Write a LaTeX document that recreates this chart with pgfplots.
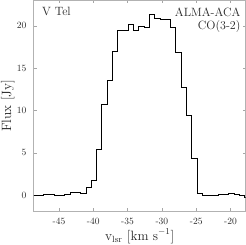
\documentclass[border=0pt]{standalone}
\usepackage{pgfplots}
\pgfplotsset{compat=1.18}
\begin{document}
\begin{tikzpicture}
\begin{axis}[
  scale only axis,
  width=211bp, height=210bp,
  xmin=-48.66, xmax=-17.8,
  ymin=-1.9, ymax=23,
  xtick={-45,-40,-35,-30,-25,-20},
  xticklabels={-45,-40,-35,-30,-25,-20},
  ytick={0,5,10,15,20},
  yticklabels={0,5,10,15,20},
  tick align=inside,
  major tick length=3bp,
  tick style={black!35, line width=0.5pt},
  axis line style={black!30, line width=0.8pt},
  tick label style={font=\fontsize{9.5}{10}\selectfont, text=black!85},
  yticklabel style={xshift=-4bp},
  xticklabel style={yshift=-3bp},
  xlabel={v$_{\rm lsr}$ [km s$^{-1}$]},
  ylabel={Flux [Jy]},
  label style={font=\fontsize{13.5}{15}\selectfont, text=black!85, inner sep=1bp},
  xlabel style={at={(axis description cs:0.5,-0.119)}, anchor=center},
  ylabel style={at={(axis description cs:-0.123,0.5)}, anchor=center},
  clip=true,
]
\addplot[const plot mark left, black, line width=0.9pt] coordinates {
(-48.75,-0.06) (-47.98,-0.04) (-47.21,0.04) (-46.44,0.03) (-45.67,0.0)
(-44.90,-0.08) (-44.13,0.08) (-43.36,0.35) (-42.59,0.35) (-41.82,0.2)
(-41.05,0.9) (-40.28,1.75) (-39.51,5.35) (-38.74,10.75) (-37.97,13.6)
(-37.20,16.95) (-36.43,19.4) (-35.66,19.5) (-34.89,20.2) (-34.12,19.45)
(-33.35,19.9) (-32.57,19.8) (-31.80,21.3) (-31.03,20.85) (-30.26,20.75)
(-29.49,20.7) (-28.72,19.8) (-27.95,16.9) (-27.18,12.7) (-26.41,9.4)
(-25.64,4.3) (-24.87,0.2) (-24.10,-0.1) (-23.33,0.0) (-22.56,0.0)
(-21.79,0.02) (-21.02,0.05) (-20.25,0.15) (-19.48,0.1) (-18.71,0.0)
(-17.94,-0.25) (-17.17,-0.25)
};
\node[anchor=north west, font=\fontsize{12}{13}\selectfont, text=black!85, inner sep=0pt] at (rel axis cs:0,1) [xshift=8bp, yshift=-6.5bp] {V Tel};
\node[anchor=north east, align=right, font=\fontsize{12}{13}\selectfont, text=black!85, inner sep=0pt] at (rel axis cs:1,1) [xshift=-5bp, yshift=-7bp] {ALMA-ACA\\CO(3-2)};
\end{axis}
\end{tikzpicture}
\end{document}
